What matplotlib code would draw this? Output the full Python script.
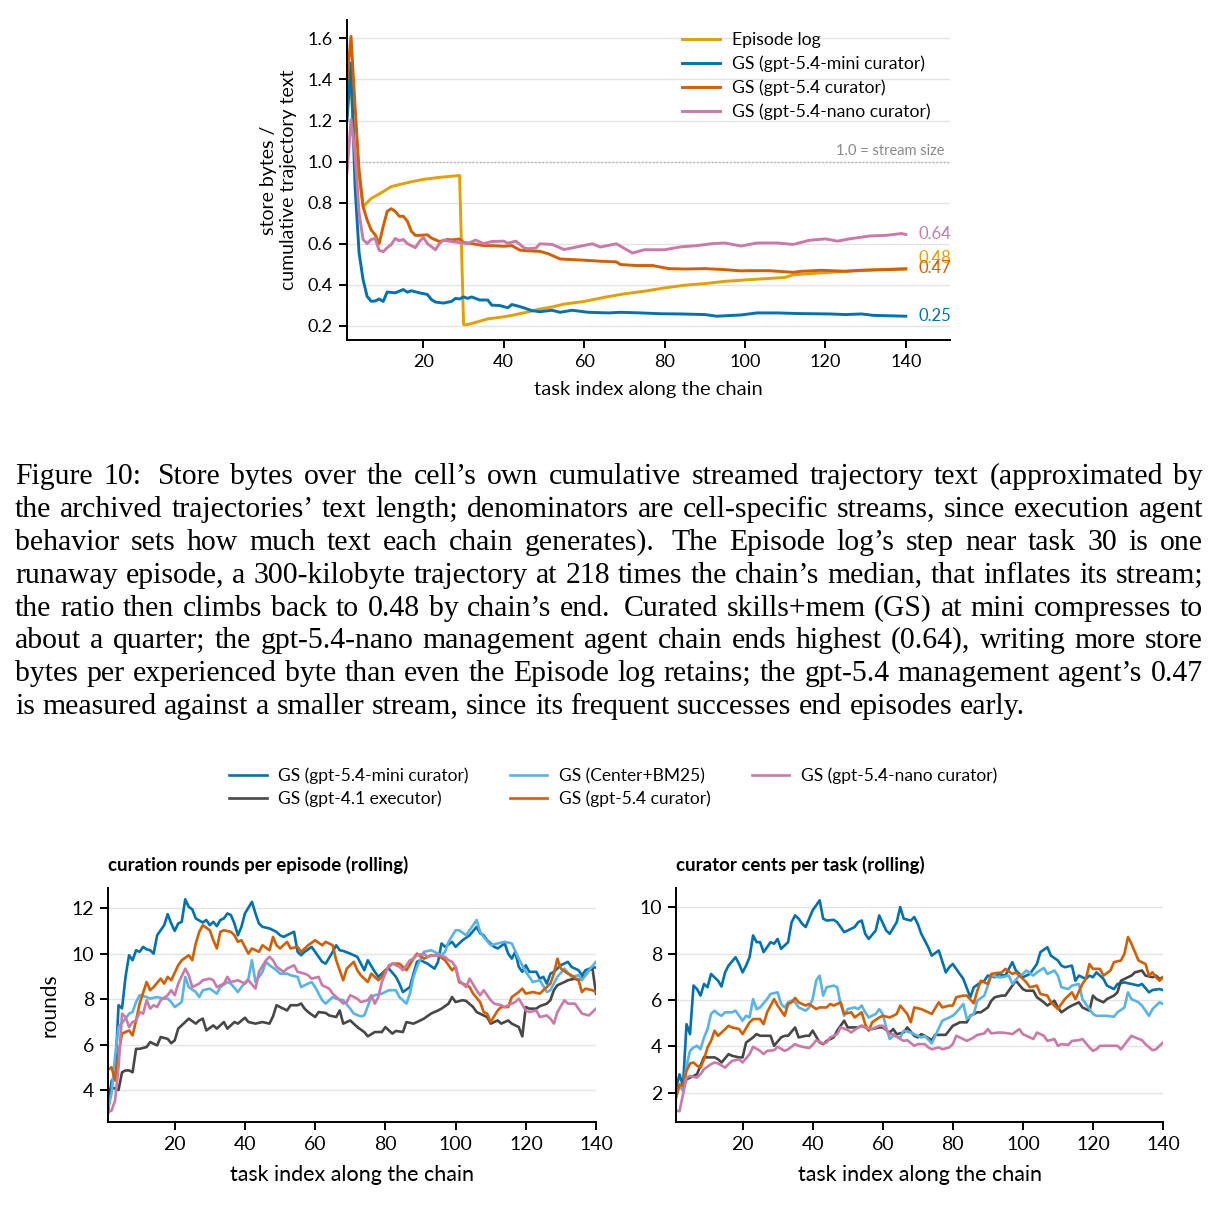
import re
import matplotlib
matplotlib.use("Agg")
import matplotlib.pyplot as plt

plt.rcParams["font.family"] = ["Lato", "DejaVu Sans"]
plt.rcParams["text.hinting"] = "native"

C_EPI, C_MINI, C_54, C_NANO, C_BM25, C_41 = "#E69F00", "#0072B2", "#D55E00", "#CC79A7", "#56B4E9", "#474747"

# ---- top panel: store bytes / cumulative trajectory text ----
epi_t = [1, 2, 3, 4, 5, 7, 10, 12, 16, 20, 24, 29, 30, 31, 33, 36, 40, 43, 46, 49, 52, 55, 60, 65, 70,
         75, 80, 85, 90, 95, 101, 105, 110, 112, 116, 121, 126, 133, 140]
epi_v = [1.45, 1.35, 1.05, 0.93, 0.78, 0.82, 0.853, 0.878, 0.897, 0.913, 0.923, 0.932, 0.205, 0.205, 0.216,
         0.233, 0.243, 0.254, 0.267, 0.281, 0.291, 0.305, 0.318, 0.338, 0.355, 0.368, 0.384, 0.397, 0.405,
         0.416, 0.424, 0.429, 0.435, 0.448, 0.453, 0.46, 0.466, 0.473, 0.478]
mini_t = [1, 2, 3, 4, 5, 6, 7, 8, 9, 10, 11, 13, 15, 16, 17, 19, 21, 22, 23, 25, 27, 28, 29, 30, 31, 32, 34,
          36, 37, 39, 41, 42, 44, 46, 47, 49, 52, 54, 57, 61, 66, 69, 74, 79, 84, 90, 93, 99, 103, 108, 113,
          121, 125, 129, 132, 140]
mini_v = [1.2, 1.48, 0.88, 0.556, 0.424, 0.343, 0.319, 0.32, 0.33, 0.318, 0.364, 0.36, 0.376, 0.363, 0.37,
          0.36, 0.352, 0.327, 0.315, 0.31, 0.318, 0.333, 0.33, 0.34, 0.333, 0.34, 0.325, 0.325, 0.30, 0.298,
          0.287, 0.303, 0.293, 0.28, 0.273, 0.268, 0.275, 0.265, 0.275, 0.265, 0.262, 0.265, 0.262, 0.258,
          0.257, 0.254, 0.246, 0.252, 0.262, 0.262, 0.259, 0.257, 0.254, 0.257, 0.25, 0.246]
g54_t = [1, 2, 3, 4, 5, 6, 7, 8, 9, 10, 11, 12, 13, 14, 15, 16, 17, 18, 19, 21, 22, 24, 26, 27, 29, 30, 32,
         35, 37, 40, 42, 44, 46, 49, 51, 54, 57, 60, 64, 68, 69, 73, 77, 81, 85, 90, 95, 99, 101, 106, 112,
         114, 119, 125, 129, 135, 140]
g54_v = [1.40, 1.61, 1.27, 0.96, 0.78, 0.716, 0.667, 0.643, 0.60, 0.683, 0.757, 0.77, 0.757, 0.733, 0.733,
         0.71, 0.66, 0.64, 0.64, 0.643, 0.627, 0.61, 0.62, 0.618, 0.622, 0.606, 0.60, 0.59, 0.59, 0.587, 0.59,
         0.568, 0.565, 0.562, 0.551, 0.525, 0.522, 0.519, 0.514, 0.511, 0.498, 0.493, 0.493, 0.478, 0.476,
         0.478, 0.473, 0.467, 0.468, 0.468, 0.46, 0.465, 0.47, 0.465, 0.47, 0.473, 0.476]
nano_t = [1, 2, 3, 4, 5, 6, 7, 8, 9, 10, 11, 12, 13, 14, 15, 16, 18, 19, 20, 21, 23, 24, 25, 27, 29, 31, 33,
          35, 37, 40, 41, 43, 45, 46, 48, 49, 52, 55, 58, 62, 64, 68, 72, 75, 80, 84, 88, 92, 95, 99, 103,
          108, 112, 116, 120, 123, 126, 131, 135, 139, 140]
nano_v = [0.945, 1.205, 1.04, 0.75, 0.62, 0.60, 0.62, 0.625, 0.568, 0.56, 0.58, 0.595, 0.625, 0.614, 0.62,
          0.60, 0.58, 0.61, 0.63, 0.60, 0.57, 0.60, 0.617, 0.61, 0.605, 0.60, 0.617, 0.60, 0.61, 0.612, 0.602,
          0.612, 0.58, 0.575, 0.578, 0.599, 0.596, 0.571, 0.583, 0.599, 0.583, 0.599, 0.554, 0.57, 0.57,
          0.584, 0.59, 0.60, 0.603, 0.588, 0.603, 0.603, 0.596, 0.616, 0.623, 0.612, 0.623, 0.637, 0.64,
          0.649, 0.644]
end_labels = ["0.64", "0.48", "0.47", "0.25"]
end_label_y = [0.649, 0.532, 0.483, 0.249]

# ---- bottom left: curation rounds per episode (rolling) ----
r_mini_t = [1, 2, 3, 4, 5, 6, 7, 8, 9, 10, 11, 12, 13, 14, 15, 16, 17, 18, 19, 20, 21, 22, 23, 24, 25, 26,
            28, 29, 30, 31, 32, 33, 34, 35, 36, 37, 38, 39, 40, 42, 43, 44, 45, 47, 49, 50, 51, 53, 54, 55,
            56, 57, 59, 60, 62, 63, 65, 66, 67, 68, 70, 72, 74, 75, 77, 78, 80, 81, 83, 84, 85, 87, 88, 89,
            90, 92, 94, 95, 96, 97, 99, 100, 102, 104, 106, 107, 108, 109, 111, 112, 114, 115, 116, 117, 118,
            119, 120, 121, 123, 124, 125, 126, 127, 128, 130, 132, 133, 135, 136, 137, 139, 140]
r_mini_v = [3.0, 4.4, 4.6, 7.74, 7.6, 9.0, 9.94, 9.72, 10.16, 10.09, 10.31, 10.2, 10.16, 10.01, 10.82,
            11.04, 11.26, 11.75, 11.34, 11.01, 11.34, 11.41, 12.40, 12.07, 11.96, 11.56, 11.38, 11.49, 11.26,
            11.41, 11.22, 11.49, 11.56, 11.78, 11.71, 11.34, 10.82, 11.19, 11.78, 12.29, 11.78, 11.34, 11.19,
            11.12, 10.97, 10.82, 10.75, 10.90, 10.97, 10.09, 9.94, 10.09, 10.31, 10.09, 9.65, 9.57, 10.09,
            10.38, 10.16, 10.13, 10.01, 9.87, 9.28, 9.72, 9.21, 8.99, 9.28, 9.35, 8.99, 8.69, 8.32, 8.54,
            9.13, 9.65, 9.72, 9.57, 9.35, 9.65, 10.46, 10.31, 10.53, 10.31, 10.60, 10.82, 11.19, 10.90, 10.82,
            10.60, 10.31, 10.24, 10.46, 10.01, 9.79, 10.09, 9.43, 9.21, 9.50, 9.21, 9.21, 8.91, 8.99, 8.69,
            9.13, 9.21, 9.50, 9.65, 9.43, 9.28, 9.06, 9.28, 9.40, 9.40]
r_41_t = [1, 2, 4, 5, 6, 7, 8, 9, 10, 12, 13, 15, 16, 18, 19, 20, 21, 23, 24, 26, 27, 28, 29, 31, 32, 34,
          35, 37, 38, 40, 41, 43, 45, 47, 48, 49, 50, 52, 53, 55, 56, 57, 58, 60, 61, 63, 64, 66, 67, 68, 70,
          72, 74, 75, 77, 79, 80, 82, 83, 85, 86, 88, 89, 91, 93, 95, 96, 98, 99, 100, 102, 103, 105, 106,
          108, 109, 110, 112, 113, 115, 116, 118, 119, 120, 121, 123, 124, 126, 127, 128, 129, 131, 132, 134,
          135, 137, 138, 139, 140]
r_41_v = [3.9, 4.13, 4.01, 4.79, 4.87, 4.87, 4.79, 5.82, 5.82, 5.90, 6.12, 5.97, 6.34, 6.26, 6.07, 6.19,
          6.71, 7.00, 7.15, 6.93, 7.07, 7.15, 6.63, 6.85, 6.71, 7.00, 6.71, 7.00, 6.93, 7.19, 7.00, 6.93,
          7.00, 6.93, 7.25, 7.74, 7.66, 7.51, 7.74, 7.74, 7.81, 7.59, 7.44, 7.22, 7.44, 7.40, 7.29, 7.22,
          7.51, 6.93, 7.07, 6.78, 6.56, 6.37, 6.56, 6.56, 6.78, 6.49, 6.61, 6.56, 7.00, 6.93, 7.00, 7.15,
          7.37, 7.51, 7.59, 7.81, 8.10, 7.88, 7.96, 7.93, 7.66, 7.44, 7.29, 7.22, 6.93, 7.07, 6.93, 7.07,
          6.93, 6.78, 6.37, 7.66, 7.59, 7.59, 7.70, 7.81, 7.96, 8.40, 8.62, 8.76, 8.84, 8.91, 8.84, 9.06,
          9.28, 9.35, 8.25]
r_bm25_t = [1, 2, 3, 4, 6, 7, 8, 9, 10, 12, 13, 15, 17, 18, 19, 20, 22, 23, 24, 26, 27, 28, 30, 32, 33, 35,
            36, 38, 39, 41, 42, 43, 45, 46, 47, 49, 50, 52, 53, 55, 56, 57, 59, 60, 62, 63, 65, 66, 68, 70,
            71, 73, 74, 76, 77, 79, 81, 83, 84, 86, 87, 88, 89, 91, 93, 94, 96, 97, 98, 100, 101, 103, 104,
            106, 107, 108, 110, 112, 114, 116, 118, 120, 122, 124, 126, 127, 129, 131, 133, 135, 136, 138, 140]
r_bm25_v = [3.2, 3.84, 5.46, 6.78, 7.15, 7.37, 7.44, 7.88, 8.18, 8.10, 8.03, 8.10, 8.03, 8.03, 7.88, 7.66,
            7.88, 8.99, 8.54, 8.32, 8.10, 8.40, 8.47, 8.25, 8.54, 8.76, 8.69, 8.32, 8.54, 8.91, 9.72, 8.76,
            9.21, 9.65, 9.50, 9.28, 9.13, 9.13, 9.06, 8.99, 8.54, 8.62, 8.76, 8.54, 7.96, 7.81, 8.10, 8.03,
            7.96, 7.59, 7.37, 7.25, 7.29, 8.10, 8.18, 8.25, 8.40, 8.40, 8.10, 7.81, 8.25, 8.99, 9.43, 10.09,
            10.16, 10.09, 9.94, 10.09, 10.53, 11.04, 11.04, 10.82, 11.04, 11.49, 10.97, 10.75, 10.38, 10.46,
            10.53, 10.46, 9.79, 9.21, 8.76, 8.84, 8.32, 8.40, 8.99, 9.35, 8.99, 9.06, 8.84, 9.28, 9.65]
r_54_t = [1, 2, 3, 4, 5, 7, 8, 9, 10, 12, 13, 14, 16, 17, 18, 19, 21, 22, 24, 25, 26, 27, 28, 30, 31, 32,
          33, 34, 36, 37, 38, 39, 41, 42, 44, 45, 47, 48, 49, 50, 52, 53, 55, 56, 58, 60, 62, 63, 65, 66, 68,
          69, 71, 72, 73, 75, 76, 78, 79, 80, 82, 84, 86, 88, 89, 91, 93, 95, 97, 99, 100, 101, 103, 104,
          105, 107, 108, 109, 110, 112, 113, 115, 116, 118, 119, 120, 122, 124, 125, 127, 128, 129, 130, 132,
          133, 135, 136, 137, 139, 140]
r_54_v = [4.9, 5.01, 4.43, 5.6, 6.49, 6.63, 6.41, 7.07, 7.81, 8.76, 8.40, 8.54, 8.91, 8.69, 8.99, 8.84,
          9.50, 9.72, 9.94, 9.72, 10.46, 10.97, 11.26, 11.04, 10.60, 10.24, 10.97, 11.04, 10.97, 10.82,
          10.53, 10.60, 10.01, 10.24, 10.09, 10.38, 10.16, 10.75, 10.38, 10.24, 10.53, 10.24, 10.31, 10.09,
          10.38, 10.60, 10.38, 10.53, 10.38, 9.72, 8.84, 9.35, 9.65, 9.28, 9.06, 8.76, 9.13, 8.84, 8.99,
          9.28, 9.57, 9.57, 9.28, 9.79, 10.01, 9.79, 9.94, 9.94, 9.72, 9.28, 9.43, 8.76, 8.62, 8.54, 8.25,
          7.88, 7.44, 7.37, 7.00, 7.51, 7.66, 7.66, 8.10, 8.32, 8.47, 8.25, 8.32, 8.25, 8.40, 8.69, 9.13,
          9.79, 9.35, 9.13, 9.06, 8.84, 8.32, 8.47, 8.40, 8.32]
r_nano_t = [1, 2, 3, 4, 5, 6, 7, 8, 9, 10, 11, 12, 13, 14, 15, 16, 18, 19, 20, 21, 23, 24, 25, 27, 28, 30,
            31, 32, 34, 35, 36, 38, 40, 41, 43, 44, 46, 47, 48, 49, 51, 52, 54, 55, 57, 58, 59, 61, 62, 64,
            65, 67, 68, 69, 70, 72, 73, 75, 76, 77, 78, 79, 81, 82, 84, 85, 87, 88, 89, 91, 92, 94, 95, 97,
            98, 99, 100, 101, 103, 104, 106, 107, 108, 110, 111, 113, 114, 116, 117, 118, 120, 121, 123, 124,
            126, 127, 128, 129, 131, 132, 134, 135, 136, 138, 140]
r_nano_v = [3.03, 3.10, 3.54, 5.01, 7.37, 7.22, 6.78, 7.00, 7.07, 7.44, 7.37, 7.96, 7.59, 7.74, 7.66, 7.96,
            8.18, 8.40, 8.18, 8.69, 9.35, 9.06, 8.54, 8.69, 8.84, 8.91, 8.84, 8.54, 8.69, 8.99, 8.76, 8.84,
            8.69, 8.84, 8.47, 9.21, 9.72, 9.87, 9.72, 9.43, 9.21, 9.35, 9.50, 9.21, 9.13, 9.06, 8.91, 8.99,
            8.62, 8.47, 8.25, 7.96, 7.81, 7.88, 8.18, 8.03, 7.88, 7.96, 8.18, 7.81, 8.10, 8.76, 9.50, 9.57,
            9.43, 9.28, 9.72, 9.79, 9.94, 10.01, 9.87, 9.94, 9.94, 9.87, 9.72, 9.65, 9.43, 8.84, 8.54, 8.91,
            8.40, 8.18, 8.40, 7.96, 7.81, 7.74, 7.66, 7.81, 7.88, 8.03, 7.51, 7.44, 7.51, 7.22, 7.29, 7.15,
            6.93, 7.44, 7.96, 7.81, 7.81, 7.59, 7.37, 7.29, 7.59]

# ---- bottom right: curator cents per task (rolling) ----
c_mini_t = [1, 2, 3, 4, 5, 6, 7, 8, 9, 10, 11, 13, 14, 15, 16, 18, 19, 20, 21, 22, 23, 24, 25, 26, 27, 28,
            29, 30, 31, 33, 34, 35, 36, 37, 38, 40, 41, 42, 43, 44, 46, 47, 49, 50, 52, 53, 54, 55, 56, 58,
            59, 61, 62, 64, 65, 66, 68, 69, 70, 71, 73, 74, 76, 78, 79, 80, 82, 83, 85, 86, 88, 89, 90, 92,
            93, 95, 97, 98, 100, 101, 102, 104, 105, 107, 108, 110, 111, 112, 114, 115, 116, 118, 119, 120,
            121, 123, 124, 126, 127, 129, 130, 131, 133, 134, 136, 137, 139, 140]
c_mini_v = [2.2, 2.8, 2.3, 4.96, 4.53, 6.62, 6.47, 6.19, 6.69, 6.55, 7.12, 6.83, 6.58, 7.19, 7.48, 7.84,
            7.55, 7.19, 7.48, 7.84, 8.78, 8.49, 8.49, 8.06, 8.27, 8.49, 8.42, 8.63, 8.20, 8.49, 9.35, 9.64,
            9.50, 9.28, 9.14, 9.86, 10.07, 10.29, 9.50, 9.42, 9.45, 9.35, 8.92, 8.99, 9.14, 9.35, 9.42, 8.85,
            8.63, 8.99, 9.64, 8.99, 8.85, 9.35, 10.00, 9.50, 9.42, 9.57, 9.28, 8.85, 8.27, 7.91, 8.13, 7.19,
            7.41, 7.55, 7.12, 6.91, 6.12, 6.55, 6.76, 6.83, 7.05, 6.98, 7.12, 7.05, 7.63, 7.27, 6.98, 7.05,
            7.12, 7.55, 8.06, 8.27, 7.91, 7.70, 7.48, 7.41, 7.48, 6.83, 7.05, 6.91, 7.05, 6.98, 7.19, 6.91,
            6.62, 6.47, 6.69, 6.76, 6.72, 6.69, 6.62, 6.69, 6.33, 6.43, 6.47, 6.43]
c_41_t = [1, 2, 3, 4, 5, 6, 7, 9, 10, 12, 13, 14, 16, 17, 19, 20, 21, 23, 24, 25, 27, 28, 29, 31, 32, 33,
          35, 36, 38, 39, 40, 42, 43, 44, 46, 47, 49, 50, 52, 53, 54, 56, 57, 59, 60, 62, 63, 64, 66, 67, 69,
          70, 71, 72, 74, 75, 77, 78, 80, 81, 82, 84, 85, 87, 88, 90, 91, 92, 94, 95, 97, 98, 100, 101, 103,
          104, 106, 107, 109, 110, 111, 113, 114, 116, 117, 119, 120, 121, 123, 124, 126, 127, 128, 130, 131,
          132, 134, 135, 137, 138, 139, 140]
c_41_v = [2.1, 2.30, 2.23, 2.59, 2.66, 2.73, 2.81, 3.55, 3.53, 3.53, 3.45, 3.31, 3.67, 3.60, 3.53, 3.53,
          4.17, 4.39, 4.53, 4.46, 4.46, 4.46, 4.03, 4.39, 4.46, 4.46, 4.82, 4.39, 4.46, 4.46, 4.68, 4.17,
          4.10, 4.24, 4.39, 4.68, 5.11, 4.82, 4.82, 4.82, 4.89, 4.75, 4.75, 4.82, 4.82, 4.60, 4.75, 4.53,
          4.60, 4.82, 4.46, 4.39, 4.53, 4.46, 4.27, 4.50, 4.50, 4.50, 4.89, 4.96, 5.04, 5.04, 5.32, 5.47,
          5.47, 5.68, 5.97, 6.12, 6.19, 6.19, 6.62, 6.83, 6.47, 6.40, 6.40, 6.12, 5.90, 5.76, 5.97, 5.68,
          5.47, 5.68, 5.76, 5.90, 5.68, 5.54, 6.19, 6.04, 5.90, 6.04, 6.19, 6.33, 6.83, 6.98, 7.05, 7.19,
          7.27, 7.05, 6.98, 7.05, 6.91, 6.98]
c_bm25_t = [1, 2, 3, 4, 5, 6, 7, 8, 9, 10, 11, 12, 13, 14, 15, 17, 18, 20, 21, 22, 23, 24, 25, 27, 28, 30,
            31, 32, 33, 34, 35, 36, 38, 39, 40, 41, 42, 43, 44, 46, 47, 48, 49, 50, 52, 53, 54, 55, 56, 58,
            59, 60, 61, 62, 63, 65, 66, 68, 69, 71, 72, 74, 75, 77, 78, 80, 81, 83, 84, 86, 87, 89, 90, 91,
            93, 94, 96, 97, 99, 100, 101, 103, 104, 106, 107, 109, 110, 111, 113, 114, 116, 117, 119, 120, 121,
            123, 124, 126, 127, 129, 130, 131, 133, 134, 136, 137, 139, 140]
c_bm25_v = [1.8, 2.30, 2.09, 3.17, 3.81, 3.96, 4.03, 3.88, 4.39, 4.75, 5.40, 5.54, 5.40, 5.32, 5.47, 5.47,
            5.54, 5.11, 5.32, 5.25, 6.04, 5.61, 5.68, 6.04, 6.26, 6.33, 5.83, 5.68, 5.90, 5.97, 5.90, 5.68,
            5.54, 5.68, 6.04, 6.83, 7.05, 6.19, 6.55, 6.62, 6.55, 5.83, 5.32, 5.61, 5.68, 5.61, 5.76, 5.47,
            5.25, 5.40, 5.61, 5.40, 4.82, 4.32, 4.46, 4.39, 4.68, 4.60, 4.53, 4.39, 4.46, 4.13, 4.46, 5.11,
            5.18, 5.32, 5.47, 5.83, 5.18, 5.40, 5.97, 6.19, 6.62, 7.05, 6.98, 6.98, 7.05, 6.69, 7.05, 7.12,
            7.27, 7.05, 7.19, 7.38, 7.12, 7.27, 7.05, 6.55, 6.47, 6.62, 6.69, 6.04, 5.61, 5.40, 5.32, 5.32,
            5.32, 5.28, 5.47, 5.68, 6.33, 6.04, 5.90, 5.76, 5.32, 5.61, 5.90, 5.83]
c_54_t = [1, 2, 3, 4, 5, 6, 7, 8, 9, 10, 11, 12, 13, 14, 16, 17, 19, 20, 22, 23, 25, 26, 27, 29, 30, 32, 33,
          34, 35, 36, 38, 39, 41, 42, 44, 45, 46, 48, 49, 51, 52, 54, 55, 56, 57, 59, 60, 62, 63, 64, 65, 67,
          68, 69, 71, 72, 74, 76, 77, 79, 80, 81, 83, 84, 86, 87, 88, 90, 91, 92, 94, 95, 97, 98, 100, 101,
          102, 104, 105, 107, 108, 110, 111, 112, 114, 115, 117, 118, 119, 120, 122, 123, 125, 126, 128, 129,
          130, 131, 132, 133, 135, 136, 137, 138, 139, 140]
c_54_v = [1.8, 2.37, 2.30, 2.95, 3.27, 3.31, 3.17, 3.09, 3.45, 3.96, 4.24, 4.68, 4.46, 4.60, 4.89, 4.82,
          4.75, 4.53, 5.04, 5.18, 5.18, 4.96, 5.47, 6.04, 5.76, 5.32, 5.83, 5.90, 6.09, 5.90, 5.76, 5.83,
          5.61, 5.68, 5.68, 5.83, 5.76, 5.90, 5.40, 5.47, 5.25, 5.47, 4.96, 4.68, 5.04, 5.25, 5.32, 5.25,
          5.32, 5.40, 5.76, 5.40, 5.04, 5.68, 5.61, 5.54, 5.40, 5.90, 5.68, 5.76, 5.76, 6.12, 6.19, 6.19,
          5.86, 6.40, 6.83, 6.69, 7.12, 7.15, 7.19, 7.34, 7.12, 7.19, 6.91, 6.76, 6.55, 6.62, 6.26, 6.19,
          5.90, 5.61, 5.83, 6.04, 6.33, 6.04, 6.69, 6.91, 7.55, 7.34, 7.34, 7.05, 7.27, 7.63, 7.70, 7.99,
          8.71, 8.42, 8.06, 7.70, 7.55, 7.05, 7.19, 6.98, 6.83, 6.98]
c_nano_t = [1, 2, 3, 4, 5, 7, 8, 9, 11, 12, 13, 15, 16, 17, 19, 20, 22, 23, 25, 26, 27, 29, 30, 32, 33, 35,
            36, 37, 39, 40, 41, 43, 44, 45, 47, 48, 50, 51, 53, 54, 55, 57, 59, 60, 62, 63, 65, 66, 67, 69,
            70, 72, 73, 74, 76, 77, 79, 80, 81, 83, 84, 86, 87, 89, 90, 91, 93, 94, 96, 97, 99, 100, 101, 103,
            104, 106, 107, 109, 110, 111, 113, 114, 116, 117, 119, 120, 121, 122, 124, 125, 127, 128, 130, 131,
            132, 134, 135, 137, 138, 139, 140]
c_nano_v = [1.22, 1.22, 1.94, 2.66, 2.73, 2.66, 2.81, 3.02, 3.24, 3.31, 3.27, 3.09, 3.24, 3.38, 3.45, 3.31,
            3.67, 3.99, 3.81, 3.67, 3.81, 3.84, 3.99, 3.81, 3.88, 4.10, 4.03, 3.99, 3.93, 4.07, 4.27, 4.13,
            4.17, 4.39, 4.53, 4.82, 4.71, 4.60, 4.82, 4.89, 4.82, 4.75, 4.89, 4.89, 4.53, 4.53, 4.32, 4.24,
            4.27, 4.03, 4.10, 4.10, 3.96, 3.88, 3.96, 3.88, 3.96, 4.10, 4.46, 4.32, 4.24, 4.39, 4.50, 4.56,
            4.75, 4.56, 4.60, 4.60, 4.56, 4.53, 4.75, 4.53, 4.46, 4.32, 4.60, 4.46, 4.24, 4.32, 4.03, 4.10,
            4.07, 4.24, 4.27, 4.32, 3.96, 3.81, 3.88, 4.03, 4.03, 4.03, 4.03, 3.88, 4.27, 4.46, 4.39, 4.27,
            4.10, 3.84, 3.88, 4.03, 4.17]

caption = [
    "Figure 10:  Store bytes over the cell\u2019s own cumulative streamed trajectory text (approximated by",
    "the archived trajectories\u2019 text length; denominators are cell-specific streams, since execution agent",
    "behavior sets how much text each chain generates).  The Episode log\u2019s step near task 30 is one",
    "runaway episode, a 300-kilobyte trajectory at 218 times the chain\u2019s median, that inflates its stream;",
    "the ratio then climbs back to 0.48 by chain\u2019s end.  Curated skills+mem (GS) at mini compresses to",
    "about a quarter; the gpt-5.4-nano management agent chain ends highest (0.64), writing more store",
    "bytes per experienced byte than even the Episode log retains; the gpt-5.4 management agent\u2019s 0.47",
    "is measured against a smaller stream, since its frequent successes end episodes early.",
]


def style(ax, fs):
    for s in ("top", "right"):
        ax.spines[s].set_visible(False)
    for s in ("left", "bottom"):
        ax.spines[s].set_linewidth(1.4)
    ax.tick_params(width=1.4, length=6, labelsize=fs, pad=4)
    ax.grid(axis="y", color="#e4e4e4", lw=1)
    ax.set_axisbelow(True)
    ax.set_xticks(range(20, 141, 20))


def justified(fig, lines, x0, x1, y0, dy, **kw):
    # one text per word, gaps stretched so each line (but the last) fills x0..x1
    r = fig.canvas.get_renderer()
    W, H = fig.bbox.width, fig.bbox.height
    probe = fig.text(0, 0, "x x", **kw)
    probe2 = fig.text(0, 0, "xx", **kw)
    sp = probe.get_window_extent(r).width - probe2.get_window_extent(r).width
    probe.remove(); probe2.remove()
    for i, line in enumerate(lines):
        y = 1 - (y0 + i * dy) / H
        parts = re.split(r"( +)", line)
        words, gaps = parts[0::2], [1.0 if len(g) == 1 else 1.5 for g in parts[1::2]]
        txts = [fig.text(0, y, w, va="baseline", ha="left", **kw) for w in words]
        widths = [t.get_window_extent(r).width for t in txts]
        unit = (x1 - x0 - sum(widths)) / sum(gaps) if i < len(lines) - 1 else sp
        x = x0
        for t, w, g in zip(txts, widths, gaps + [0]):
            t.set_x(x / W)
            x += w + g * unit


fig = plt.figure(figsize=(12.19, 12.15), dpi=100)

# top panel
ax = fig.add_axes([347 / 1219, 1 - 340 / 1215, 603 / 1219, 320 / 1215])
style(ax, 13)
ax.axhline(1.0, color="#b0b0b0", lw=1, ls=":", zorder=1)
ax.plot(epi_t, epi_v, color=C_EPI, lw=2.1, label="Episode log")
ax.plot(mini_t, mini_v, color=C_MINI, lw=2.1, label="GS (gpt-5.4-mini curator)")
ax.plot(g54_t, g54_v, color=C_54, lw=2.1, label="GS (gpt-5.4 curator)")
ax.plot(nano_t, nano_v, color=C_NANO, lw=2.1, label="GS (gpt-5.4-nano curator)")
for s, yv, c in zip(end_labels, end_label_y, [C_NANO, C_EPI, C_54, C_MINI]):
    ax.text(143.2, yv, s, color=c, fontsize=12, va="center", ha="left")
ax.text(149.7, 1.015, "1.0 = stream size", color="#888888", fontsize=10.5, ha="right", va="bottom")
ax.set_xlim(1, 151)
ax.set_ylim(0.13, 1.69)
ax.set_yticks([0.2, 0.4, 0.6, 0.8, 1.0, 1.2, 1.4, 1.6])
ax.set_xlabel("task index along the chain", fontsize=14.5, labelpad=8)
ax.set_ylabel("store bytes /\ncumulative trajectory text", fontsize=14, labelpad=8)
ax.legend(loc="upper right", bbox_to_anchor=(0.995, 1.012), frameon=False, fontsize=12.7,
          handlelength=2.15, handletextpad=0.7, labelspacing=0.42)

justified(fig, caption, 15, 1203, 484, 32.9, fontsize=21.4, family=["Liberation Serif"])

# bottom panels
names = ["GS (gpt-5.4-mini curator)", "GS (gpt-4.1 executor)", "GS (Center+BM25)",
         "GS (gpt-5.4 curator)", "GS (gpt-5.4-nano curator)"]
colors = [C_MINI, C_41, C_BM25, C_54, C_NANO]
left = [(r_mini_t, r_mini_v), (r_41_t, r_41_v), (r_bm25_t, r_bm25_v), (r_54_t, r_54_v), (r_nano_t, r_nano_v)]
right = [(c_mini_t, c_mini_v), (c_41_t, c_41_v), (c_bm25_t, c_bm25_v), (c_54_t, c_54_v), (c_nano_t, c_nano_v)]

axl = fig.add_axes([108 / 1219, 1 - 1122 / 1215, 488 / 1219, 234 / 1215])
axr = fig.add_axes([676 / 1219, 1 - 1122 / 1215, 487 / 1219, 234 / 1215])
for a, series in ((axl, left), (axr, right)):
    style(a, 14)
    for (t, v), c, n in zip(series, colors, names):
        a.plot(t, v, color=c, lw=1.9, label=n)
    a.set_xlim(1, 140)
    a.set_xlabel("task index along the chain", fontsize=15.5, labelpad=9)
axl.set_ylim(2.6, 12.9)
axl.set_yticks([4, 6, 8, 10, 12])
axl.set_ylabel("rounds", fontsize=15, labelpad=9)
axl.set_title("curation rounds per episode (rolling)", loc="left", fontsize=13.5, fontweight="bold", pad=12)
axr.set_ylim(0.75, 10.82)
axr.set_yticks([2, 4, 6, 8, 10])
axr.set_title("curator cents per task (rolling)", loc="left", fontsize=13.5, fontweight="bold", pad=12)

h, l = axl.get_legend_handles_labels()
fig.legend(h, l, loc="upper center", bbox_to_anchor=(0.503, 1 - 752 / 1215), ncol=3, frameon=False,
           fontsize=12.5, handlelength=2.15, handletextpad=0.65, columnspacing=2.4, labelspacing=0.38)

fig.savefig("out.png", dpi=100)
